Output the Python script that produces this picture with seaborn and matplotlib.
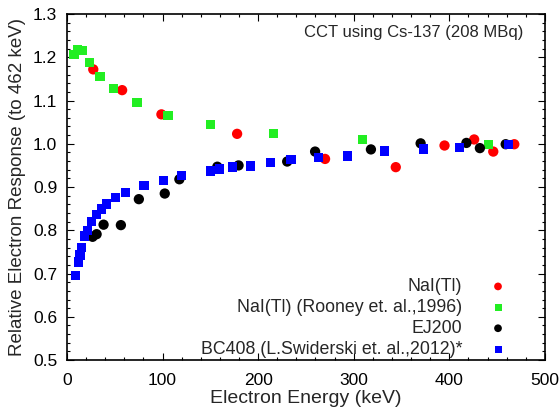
import matplotlib
matplotlib.use("Agg")
import matplotlib.pyplot as plt
import seaborn as sns
import pandas as pd
from matplotlib.ticker import MultipleLocator

nai_x = [27.5, 57.7, 98.8, 178, 270, 344, 395, 426, 446, 468]
nai_y = [1.172, 1.124, 1.068, 1.023, 0.965, 0.946, 0.996, 1.010, 0.982, 0.999]

rooney_x = [7.3, 10.8, 16, 23.3, 34.4, 48.7, 73.4, 105.7, 150.3, 216.4, 309, 441]
rooney_y = [1.207, 1.217, 1.215, 1.188, 1.156, 1.128, 1.096, 1.066, 1.044, 1.023, 1.010, 0.999]

ej_x = [26.8, 31, 38.3, 56.4, 75.2, 102.3, 117.6, 157.3, 179.5, 230.4, 259.6, 318, 370, 417.9, 432, 459]
ej_y = [0.785, 0.791, 0.813, 0.812, 0.872, 0.885, 0.918, 0.947, 0.950, 0.959, 0.982, 0.987, 1.001, 1.002, 0.990, 0.999]

bc_x = [9.1, 11.8, 13.6, 15.3, 18.1, 21.2, 25.8, 31, 35.8, 41.4, 51.1, 61.3, 80.7, 100.9, 120,
        150.3, 159.7, 173, 192, 213, 234.5, 263, 293.3, 332, 372.7, 411, 462]
bc_y = [0.696, 0.727, 0.743, 0.761, 0.787, 0.799, 0.820, 0.837, 0.849, 0.861, 0.876, 0.888, 0.904,
        0.915, 0.927, 0.937, 0.942, 0.946, 0.949, 0.957, 0.964, 0.969, 0.972, 0.983, 0.988, 0.992, 0.999]

labels = ["NaI(Tl)", "NaI(Tl) (Rooney et. al.,1996)", "EJ200", "BC408 (L.Swiderski et. al.,2012)*"]
colors = ["#ff0000", "#22ee22", "#000000", "#0000ff"]
markers = ["o", "s", "o", "s"]
sizes = [55, 45, 55, 45]

sns.set_style("white")
plt.rcParams['font.family'] = ['Liberation Sans', 'DejaVu Sans']

fig = plt.figure(figsize=(5.6, 4.12), dpi=100)
ax = fig.add_axes([0.1196, 0.126, 0.8534, 0.840])

series = [(nai_x, nai_y), (rooney_x, rooney_y), (ej_x, ej_y), (bc_x, bc_y)]
for (xs, ys), lab, c, m, s in zip(series, labels, colors, markers, sizes):
    df = pd.DataFrame({"x": xs, "y": ys})
    sns.scatterplot(data=df, x="x", y="y", ax=ax, color=c, marker=m, s=s,
                    edgecolor="none", linewidth=0, label=lab)

ax.set_xlim(0, 500)
ax.set_ylim(0.5, 1.3)
ax.xaxis.set_major_locator(MultipleLocator(100))
ax.xaxis.set_minor_locator(MultipleLocator(20))
ax.yaxis.set_major_locator(MultipleLocator(0.1))
ax.yaxis.set_minor_locator(MultipleLocator(0.02))
ax.yaxis.set_major_formatter(matplotlib.ticker.FormatStrFormatter('%.1f'))
ax.tick_params(which='both', direction='in', top=True, right=True, bottom=True, left=True,
               colors='black', width=0.8)
ax.tick_params(which='major', length=5, labelsize=12.5, pad=7)
ax.tick_params(axis='x', which='major', pad=9)
ax.tick_params(which='minor', length=2.5)
for sp in ax.spines.values():
    sp.set_color('black')
    sp.set_linewidth(1.2)

ax.set_xlabel("Electron Energy (keV)", fontsize=14, va='center')
ax.xaxis.set_label_coords(0.5, -0.112)
ax.set_ylabel("Relative Electron Response (to 462 keV)", fontsize=13.5, labelpad=5)

ax.text(0.955, 0.968, "CCT using Cs-137 (208 MBq)", transform=ax.transAxes,
        ha='right', va='top', fontsize=12)

leg = ax.legend(loc='lower right', markerfirst=False, frameon=False, fontsize=12.8,
                handletextpad=1.0, labelspacing=0.22, markerscale=0.75,
                borderaxespad=0.0, bbox_to_anchor=(0.954, -0.014))

fig.savefig("out.png", dpi=100)
